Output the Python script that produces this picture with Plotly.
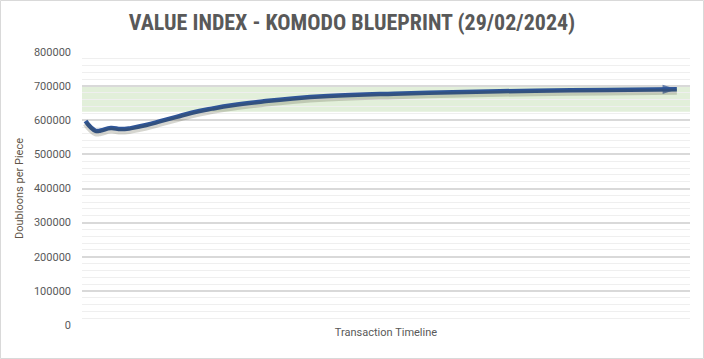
import plotly.graph_objects as go

TITLE = "VALUE INDEX - KOMODO BLUEPRINT (29/02/2024)"
Y_TITLE = "Doubloons per Piece"
X_TITLE = "Transaction Timeline"

# transaction index along the timeline
transactions = [1, 2, 3, 4, 6, 8, 10, 13, 16, 19, 22, 26, 30, 36, 42, 49, 62, 76, 90, 104, 118]
values = [598000, 580000, 569000, 570000, 577000, 574000, 577000, 586000, 598000, 610000, 622000, 634000,
          644000, 655000, 664000, 671000, 678000, 683000, 686500, 689000, 691000]

BAND_LOW = 625000
BAND_HIGH = 700000
Y_TICKS = [0, 100000, 200000, 300000, 400000, 500000, 600000, 700000, 800000]
Y_MAX = 800000

W, H = 704, 359
ML, MR, MT, MB = 82, 14, 52, 34
pw = W - ML - MR
ph = H - MT - MB
shadow_shift = 2.5 * Y_MAX / ph

fig = go.Figure()

# target band
fig.add_shape(type="rect", xref="paper", yref="y", x0=0, x1=1, y0=BAND_LOW, y1=BAND_HIGH,
              fillcolor="#E2EFDA", line_width=0, layer="below")

# shadow (drawn on a slightly shifted overlay axis)
fig.add_trace(go.Scatter(x=transactions, y=values, mode="lines", yaxis="y2",
                         line=dict(color="rgba(70,70,40,0.22)", width=6, shape="spline", smoothing=1.3),
                         hoverinfo="skip", showlegend=False))
sizes = [0] * (len(values) - 1) + [15]
fig.add_trace(go.Scatter(x=transactions, y=values, mode="lines+markers",
                         line=dict(color="#2F5597", width=4.5, shape="spline", smoothing=1.3),
                         marker=dict(symbol="arrow", angleref="previous", size=sizes, color="#2F5597",
                                     line=dict(width=0)),
                         showlegend=False))

title_family = "Liberation Sans Narrow, Roboto Condensed, DejaVu Sans Condensed, Roboto, sans-serif"
font_family = "Roboto, Open Sans, sans-serif"

fig.update_layout(
    width=W, height=H,
    margin=dict(l=ML, r=MR, t=MT, b=MB, autoexpand=False),
    paper_bgcolor="white", plot_bgcolor="white",
    font=dict(family=font_family, color="#595959"),
    title=dict(text="<b>" + TITLE + "</b>", x=0.5, xanchor="center", y=1 - 22 / H, yanchor="middle",
               font=dict(size=22, color="#595959", family=title_family)),
    xaxis=dict(range=[0.3, 120.6], showticklabels=False, showgrid=False, zeroline=False, ticks="",
               automargin=False,
               title=dict(text=X_TITLE, standoff=3, font=dict(size=11, color="#595959"))),
    yaxis=dict(range=[0, Y_MAX], tickvals=Y_TICKS, ticktext=[str(v) for v in Y_TICKS],
               showgrid=True, gridcolor="#D9D9D9", gridwidth=2, zeroline=False, automargin=False,
               minor=dict(dtick=20000, showgrid=True, gridcolor="#EFEFEF", gridwidth=1),
               tickfont=dict(size=11, color="#595959"), ticklabelstandoff=10,
               title=dict(text=Y_TITLE, standoff=8, font=dict(size=11, color="#5F5548"))),
    yaxis2=dict(range=[shadow_shift, Y_MAX + shadow_shift], overlaying="y", visible=False,
                showgrid=False, zeroline=False),
)

fig.add_shape(type="rect", xref="paper", yref="paper",
              x0=-(ML - 0.5) / pw, x1=1 + (MR - 0.5) / pw, y0=-(MB - 0.5) / ph, y1=1 + (MT - 0.5) / ph,
              line=dict(color="#D9D9D9", width=1), fillcolor="rgba(0,0,0,0)", layer="below")

fig.write_html("out.html", config={"displayModeBar": False},
               post_script="document.body.style.margin='0';document.body.style.padding='0';")
